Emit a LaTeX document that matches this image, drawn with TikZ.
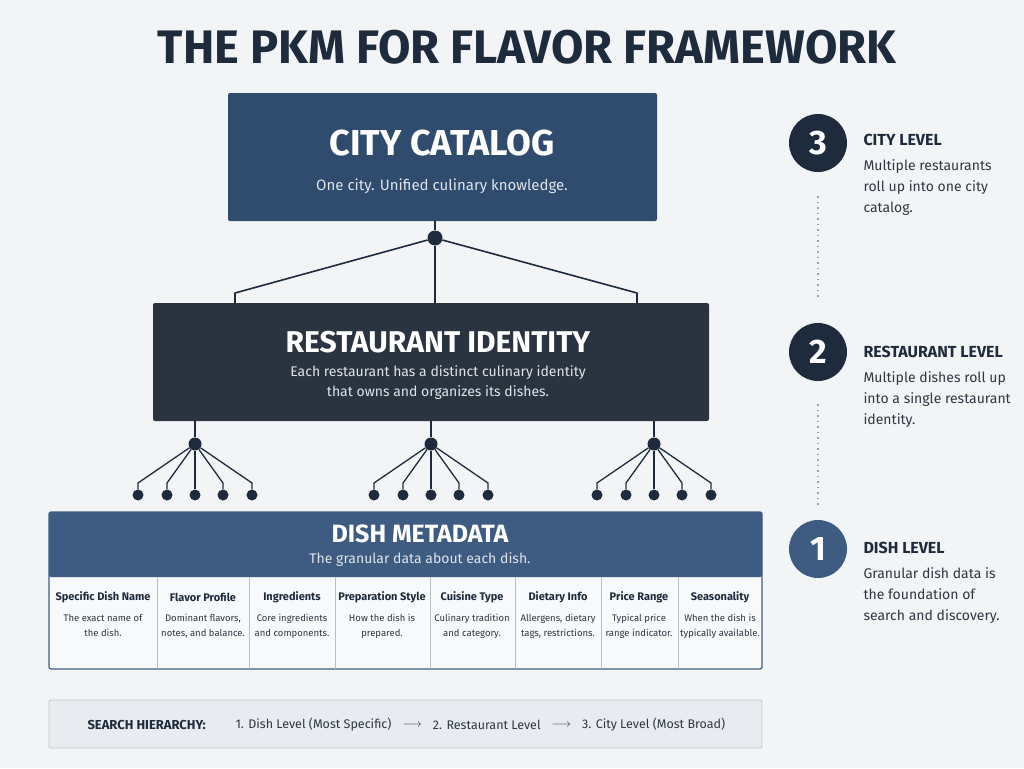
\documentclass[tikz,border=0pt]{standalone}
\usepackage{fontspec}
\setmainfont{Fira Sans}
\usetikzlibrary{calc,positioning}
\definecolor{bg}{HTML}{F3F4F6}
\definecolor{navy}{HTML}{2F4B6E}
\definecolor{slate}{HTML}{2A3440}
\definecolor{steel}{HTML}{3E5C82}
\definecolor{ink}{HTML}{1E2B3C}
\definecolor{body}{HTML}{2E3742}
\definecolor{muted}{HTML}{9AA2AC}
\definecolor{cellbg}{HTML}{F8F9FB}
\definecolor{searchbg}{HTML}{E8EBEF}
\newcommand{\fs}[1]{\fontsize{#1}{1.2\dimexpr#1pt\relax}\selectfont}
\newcommand{\fsl}[2]{\fontsize{#1}{#2}\selectfont}
\tikzset{
  box/.style={draw=none, rounded corners=2pt},
  link/.style={draw=ink, line width=1.6pt, line join=round},
  hub/.style={circle, fill=ink, inner sep=0pt, minimum size=15pt},
  leaf/.style={circle, fill=ink, inner sep=0pt, minimum size=11pt},
  badge/.style={circle, fill=ink, inner sep=0pt, minimum size=58pt, text=white, font=\fs{34}\bfseries},
  head/.style={text=white, font=\fs{36}\bfseries},
  sub/.style={text=white!85!navy, font=\fs{15}, align=center},
  colhead/.style={text=ink, font=\fs{11}\bfseries},
  coltext/.style={text=body, font=\fsl{9.5}{15}, align=center},
  lvl/.style={text=ink, font=\fs{16}\bfseries, anchor=west},
  lvltext/.style={text=body, font=\fsl{14}{21}, anchor=north west, align=left},
  dotline/.style={draw=muted, line width=1.2pt, dash pattern=on 1.5pt off 4pt}
}
\begin{document}
\begin{tikzpicture}[x=1pt,y=-1pt]
  \fill[bg] (0,0) rectangle (1024,768);
  \node[text=ink, font=\fs{47}\bfseries] (title) at (527,47) {THE PKM FOR FLAVOR FRAMEWORK};

  % city level
  \fill[box, navy] (228,93) rectangle (657,221);
  \node[head] (city) at (442,143) {CITY CATALOG};
  \node[sub] (citysub) at (442,186) {One city. Unified culinary knowledge.};
  \node[hub] (cityhub) at (435,238) {};
  \draw[link] (435,221) -- (cityhub);
  \coordinate (r1) at (235,303);
  \coordinate (r2) at (435,303);
  \coordinate (r3) at (637,303);
  \draw[link] (cityhub) -- (235,293) -- (r1);
  \draw[link] (cityhub) -- (r2);
  \draw[link] (cityhub) -- (637,293) -- (r3);

  % restaurant level
  \fill[box, slate] (153,303) rectangle (709,421);
  \node[head, font=\fs{30}\bfseries] (rest) at (438,342) {RESTAURANT IDENTITY};
  \node[sub, font=\fsl{14}{20}] (restsub) at (438,383) {Each restaurant has a distinct culinary identity\\that owns and organizes its dishes.};

  \foreach \h/\x in {a/195,b/431,c/654}{
    \node[hub, minimum size=13pt] (hub\h) at (\x,444) {};
    \draw[link] (\x,421) -- (hub\h);
    \foreach \i/\dx in {1/-57,2/-28,3/0,4/28,5/57}{
      \node[leaf] (leaf\h\i) at (\x+\dx,495) {};
      \draw[link, line width=1.3pt] (hub\h) -- (\x+\dx,483) -- (leaf\h\i);
    }
  }

  % dish level
  \fill[box, cellbg, draw=steel, line width=1.2pt] (49,512) rectangle (762,669);
  \fill[steel, rounded corners=2pt] (49,512) rectangle (762,577);
  \node[head, font=\fs{25}\bfseries] (dish) at (420,534) {DISH METADATA};
  \node[sub, font=\fs{14}] (dishsub) at (420,560) {The granular data about each dish.};
  \foreach \x in {157,249,335,430,515,601,678}
    \draw[draw=muted!70, line width=0.6pt] (\x,577) -- (\x,669);
  \foreach \x/\t/\d in {103/Specific Dish Name/{The exact name of\\the dish.},
                        203/Flavor Profile/{Dominant flavors,\\notes, and balance.},
                        292/Ingredients/{Core ingredients\\and components.},
                        382/Preparation Style/{How the dish is\\prepared.},
                        472/Cuisine Type/{Culinary tradition\\and category.},
                        558/Dietary Info/{Allergens, dietary\\tags, restrictions.},
                        639/Price Range/{Typical price\\range indicator.},
                        720/Seasonality/{When the dish is\\typically available.}}{
    \node[colhead] at (\x,597) {\t};
    \node[coltext, anchor=north] at (\x,611) {\d};
  }

  % search hierarchy
  \fill[box, searchbg, draw=muted!60, line width=0.8pt] (49,700) rectangle (762,748);
  \node[text=ink, font=\fs{13}\bfseries, anchor=west] (search) at (84,725) {SEARCH HIERARCHY:};
  \node[text=body, font=\fs{12.5}, anchor=west] (s1) at (232,725) {1. Dish Level (Most Specific)};
  \node[text=body, font=\fs{12.5}, right=4pt of s1] (ar1) {$\longrightarrow$};
  \node[text=body, font=\fs{12.5}, right=4pt of ar1] (s2) {2. Restaurant Level};
  \node[text=body, font=\fs{12.5}, right=4pt of s2] (ar2) {$\longrightarrow$};
  \node[text=body, font=\fs{12.5}, right=4pt of ar2] (s3) {3. City Level (Most Broad)};

  % side steps
  \node[badge] (n3) at (818,143) {3};
  \node[badge] (n2) at (818,352) {2};
  \node[badge, fill=steel] (n1) at (818,549) {1};
  \draw[dotline] (818,196) -- (818,298);
  \draw[dotline] (818,404) -- (818,506);
  \node[lvl] (l3) at (860,140) {CITY LEVEL};
  \node[lvltext] at (860,156) {Multiple restaurants\\roll up into one city\\catalog.};
  \node[lvl] (l2) at (860,352) {RESTAURANT LEVEL};
  \node[lvltext] at (860,368) {Multiple dishes roll up\\into a single restaurant\\identity.};
  \node[lvl] (l1) at (860,548) {DISH LEVEL};
  \node[lvltext] at (860,564) {Granular dish data is\\the foundation of\\search and discovery.};
\end{tikzpicture}
\end{document}
